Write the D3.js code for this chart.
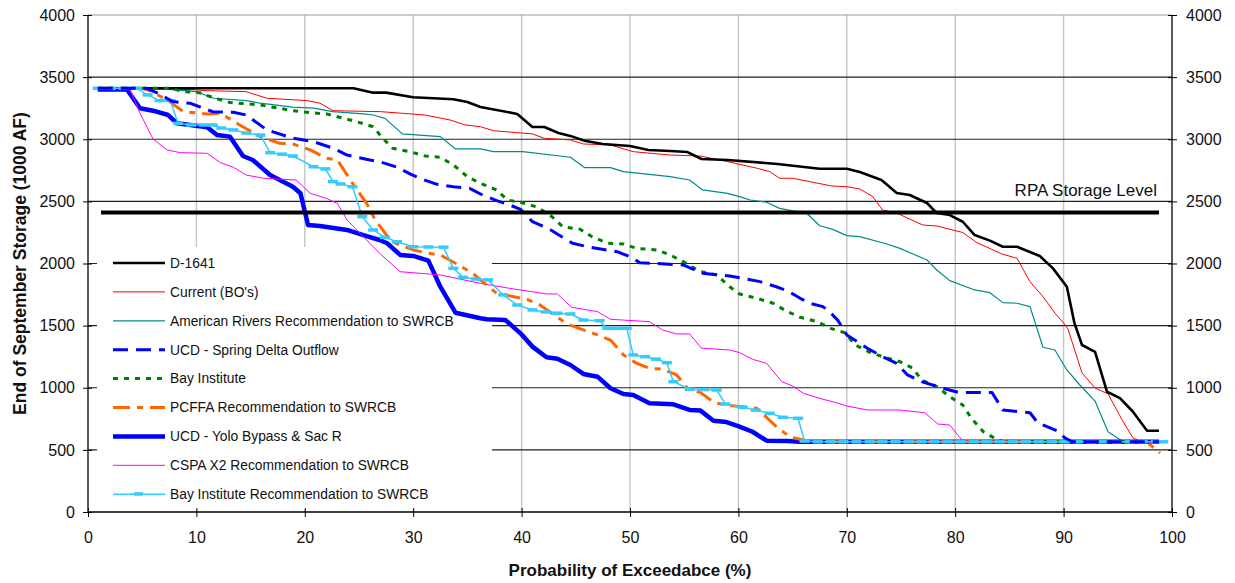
<!DOCTYPE html>
<html>
<head>
<meta charset="utf-8">
<script src="https://cdn.jsdelivr.net/npm/d3@7"></script>
<style>
  body { margin: 0; background: #fff; }
  svg { display: block; font-family: "Liberation Sans", Arial, sans-serif; }
</style>
</head>
<body>
<svg id="chart"></svg>
<script>
const WIDTH = 1235;
const HEIGHT = 583;

// axis ticks
const X_TICKS = [0, 10, 20, 30, 40, 50, 60, 70, 80, 90, 100];
const Y_TICKS = [0, 500, 1000, 1500, 2000, 2500, 3000, 3500, 4000];

const RPA_LEVEL = 2410;

// series, as [probability of exceedance %, storage 1000 AF]
const D1641 = [[0.9,3410],[24.5,3410],[26.3,3375],[27.5,3375],[30,3338],[33.7,3322],[35,3300],[36.2,3260],
  [39.6,3204],[41,3099],[42.1,3099],[43.4,3050],[44.5,3027],[45.8,2988],[47.5,2962],[50,2946],[51.7,2914],
  [53.7,2905],[55.3,2897],[56.6,2841],[59,2833],[63.6,2801],[67.5,2763],[70,2763],[71.2,2736],[73.2,2672],
  [74.6,2567],[75.8,2551],[77.4,2487],[78.3,2406],[79.5,2390],[80.7,2336],[81.8,2229],[83.2,2184],[84.4,2135],
  [85.7,2135],[87.8,2060],[89,1963],[90.3,1813],[91,1520],[91.7,1344],[92.9,1288],[94,968],[95.2,917],
  [96.4,807],[97.7,654],[98.8,654]];

const CURRENT = [[0.9,3410],[9.5,3400],[11,3391],[14.6,3383],[16.5,3330],[20.2,3311],[21.4,3290],[22.6,3230],
  [27,3222],[29,3209],[31.1,3195],[33.4,3155],[34.8,3115],[36.2,3101],[37.4,3069],[41,3043],[42.1,3008],
  [44.5,2994],[45.7,2962],[48.2,2954],[50.3,2900],[53.7,2873],[56.5,2865],[59,2820],[61.7,2767],[62.9,2739],
  [63.8,2686],[65,2686],[68.6,2624],[70,2618],[71.2,2600],[72.4,2538],[73.3,2430],[74.6,2406],[75.8,2358],
  [77,2310],[78.3,2302],[80.7,2249],[82,2168],[84.3,2077],[85.7,2042],[86.9,1854],[88.1,1733],[89.2,1601],
  [90,1521],[90.4,1473],[91.7,1119],[92.9,998],[94.1,950],[95.4,741],[96.4,596],[97,571],[98.8,565]];

const AMERICAN_RIVERS = [[0.9,3410],[6.4,3410],[10,3383],[11.6,3330],[14.6,3311],[15.9,3290],[18.9,3258],
  [20.8,3250],[22.6,3222],[25.4,3204],[26.3,3195],[27.4,3168],[29,3043],[32.5,3021],[33.9,2922],[36.2,2922],
  [37.4,2900],[40.1,2900],[44.5,2855],[45.8,2772],[48.2,2772],[49.4,2739],[53.7,2699],[55.5,2672],[56.7,2592],
  [59,2565],[60.1,2538],[61.1,2511],[62.6,2493],[63.8,2444],[66.3,2404],[67.5,2304],[68.7,2275],[70,2224],
  [71.2,2216],[73.7,2157],[74.9,2122],[76.1,2077],[77.4,2028],[78.3,1948],[79.5,1862],[81.8,1787],[83.2,1765],
  [84.4,1685],[85.7,1680],[86.9,1653],[88.1,1326],[89.2,1304],[90.3,1143],[91.5,1022],[92.9,893],[94.1,646],
  [95.4,571],[98.8,565]];

const SPRING_OUTFLOW = [[0.9,3410],[5.4,3410],[6.6,3365],[7.8,3303],[9.4,3290],[11.5,3222],[13.4,3217],
  [14.6,3195],[16.5,3075],[18.9,3008],[20.8,2981],[22.6,2928],[23.9,2873],[26,2833],[26.9,2820],[28.5,2775],
  [29.7,2721],[30.6,2686],[32.2,2637],[33.7,2618],[35.2,2605],[36.4,2551],[37.7,2506],[38.9,2471],[39.9,2436],
  [41,2337],[42.6,2275],[43.7,2216],[44.7,2163],[46.3,2131],[48.8,2095],[50,2055],[50.9,2007],[54.9,1988],
  [56.7,1921],[59.2,1900],[62,1854],[63.5,1813],[64.5,1781],[65.7,1720],[66.6,1680],[67.8,1653],[68.7,1586],
  [69.2,1540],[70,1425],[71.9,1318],[73.3,1250],[74.6,1197],[75.6,1103],[76.9,1049],[79.2,988],[80.4,961],
  [83.4,961],[84.4,821],[86.9,799],[87.6,719],[88.7,679],[89.4,654],[90.1,598],[90.8,565],[98.8,565]];

const BAY_INSTITUTE = [[0.9,3410],[7.6,3410],[8.8,3383],[10.3,3375],[11.7,3330],[13.1,3296],[15.9,3276],
  [18.9,3230],[20.5,3214],[22,3204],[24.8,3141],[26.3,3101],[27.2,3008],[28.1,2928],[29.7,2900],[31.1,2865],
  [32.5,2855],[33.7,2793],[35,2699],[36.2,2645],[37.7,2592],[38.7,2511],[40.1,2489],[41.5,2452],[42.8,2377],
  [43.8,2296],[45.4,2275],[46.5,2216],[47.9,2163],[49.4,2157],[50.6,2122],[52.5,2109],[53.7,2069],[54.9,2015],
  [56.5,1934],[58,1908],[59.2,1813],[60.1,1755],[61.7,1720],[63.2,1680],[64.5,1613],[65.7,1567],[67.3,1532],
  [68.5,1478],[69.8,1443],[70.8,1344],[72,1290],[73.3,1250],[74.9,1210],[76.1,1157],[76.9,1063],[78.3,1009],
  [79.5,928],[80.7,861],[81.5,754],[82.6,646],[83.9,580],[84.5,565],[98.8,565]];

const PCFFA = [[0.9,3410],[5,3410],[5.7,3391],[7.3,3316],[8.8,3222],[11,3204],[12.2,3209],[14,3115],
  [15.9,3021],[17.7,2967],[18.9,2962],[20.5,2914],[22,2847],[23,2833],[23.6,2753],[24.4,2645],[25.7,2484],
  [26.5,2350],[28,2175],[30,2109],[31.4,2082],[32.5,2069],[34,1997],[35.5,1920],[37.7,1760],[40.5,1712],
  [41.7,1666],[44.2,1513],[47,1425],[48.2,1384],[49.4,1264],[50.6,1197],[51.8,1157],[53,1149],[54.3,1103],
  [55.3,996],[56.5,961],[57.8,880],[58.9,861],[61.7,835],[63.5,687],[64.8,601],[66,580],[66.8,565],
  [97.6,565],[98.2,526],[98.9,475]];

const YOLO_SAC = [[0.9,3400],[3.6,3400],[4.8,3250],[6,3230],[7.4,3195],[8.2,3128],[11,3096],[11.9,3034],
  [13.1,3021],[14.3,2865],[15.2,2833],[16.8,2712],[18.9,2618],[19.6,2565],[20.3,2310],[21.4,2302],[23.9,2270],
  [25.4,2229],[26.9,2189],[27.6,2163],[28.8,2069],[30,2061],[31.4,2023],[32.5,1813],[33.9,1604],[36.2,1559],
  [36.8,1551],[38.5,1545],[39.9,1438],[41,1331],[42.3,1245],[43.3,1234],[44.5,1183],[45.7,1111],[47,1089],
  [48.2,996],[49.4,950],[50.3,942],[51.8,875],[54,867],[55.5,821],[56.5,816],[57.7,735],[58.9,724],[60.1,687],
  [61.3,646],[62.6,574],[64.5,571],[65.7,565],[98.8,565]];

const CSPA_X2 = [[0.9,3410],[3.6,3410],[3.9,3396],[4.8,3209],[6,3002],[7.3,2914],[8.5,2892],[11,2887],
  [12.2,2812],[13.4,2775],[14.6,2712],[16.2,2686],[19.2,2672],[20.5,2565],[22,2524],[23,2484],[23.9,2350],
  [25.4,2216],[26.9,2082],[28.8,1934],[32.5,1908],[36.2,1840],[38.9,1800],[42.3,1755],[43.3,1755],[44.6,1648],
  [47,1613],[48.2,1551],[51.8,1532],[53,1465],[54.3,1433],[55.5,1433],[56.6,1318],[59.2,1304],[60.1,1283],
  [61.3,1229],[62.6,1197],[64,1049],[65,1014],[66,955],[67.8,907],[68.7,888],[70,853],[71.9,821],[74.9,821],
  [77.2,799],[78.4,708],[79.5,700],[80.6,580],[81,565],[98.8,565]];

const BAY_INST_REC = [[0.9,3410],[2.1,3410],[3.3,3410],[4.5,3410],[5.5,3357],[6.6,3311],[7.6,3311],[8.3,3128],
  [9.5,3115],[10.7,3115],[11.5,3115],[12.3,3090],[13.4,3075],[14.6,3050],[15.9,3034],[16.8,2892],[17.9,2880],
  [18.9,2865],[20.8,2779],[21.9,2761],[22.6,2659],[23.3,2640],[24.4,2618],[25.3,2377],[26.3,2270],[27.4,2210],
  [28.5,2175],[30,2135],[31.4,2133],[32.8,2131],[33.7,1961],[34.6,1889],[35.8,1875],[36.9,1868],[38.3,1747],
  [39.6,1666],[41,1626],[42.2,1610],[43.3,1600],[44.5,1594],[45.7,1545],[47.2,1540],[47.9,1478],[48.8,1478],
  [49.7,1478],[50.3,1264],[51.4,1250],[52.4,1230],[53.4,1202],[54,1049],[55.5,988],[56.8,985],[58,982],
  [58.8,869],[60.4,843],[61.6,820],[62.9,794],[64.1,762],[65.5,754],[66.1,571],[67.3,565],[68.5,565],
  [69.7,565],[70.9,565],[72.1,565],[73.3,565],[74.5,565],[75.7,565],[76.9,565],[78.1,565],[79.3,565],
  [80.5,565],[81.7,565],[82.9,565],[84.1,565],[85.3,565],[86.5,565],[87.7,565],[88.9,565],[90.1,565],
  [91.3,565],[92.5,565],[93.7,565],[94.9,565],[96.1,565],[97.3,565],[98.5,565],[99.2,565]];

const SERIES = [
  { name: "D-1641", data: D1641, color: "#000000", width: 2.6, dash: null },
  { name: "Current (BO's)", data: CURRENT, color: "#ff0000", width: 1, dash: null },
  { name: "American Rivers Recommendation to SWRCB", data: AMERICAN_RIVERS, color: "#008b8b", width: 1.2, dash: null },
  { name: "UCD - Spring Delta Outflow", data: SPRING_OUTFLOW, color: "#0000ff", width: 3, dash: "15,8" },
  { name: "Bay Institute", data: BAY_INSTITUTE, color: "#008000", width: 3, dash: "5,6" },
  { name: "PCFFA Recommendation to SWRCB", data: PCFFA, color: "#ff6600", width: 3, dash: "17,7,6,7" },
  { name: "UCD - Yolo Bypass & Sac R", data: YOLO_SAC, color: "#0000ff", width: 4.5, dash: null },
  { name: "CSPA X2 Recommendation to SWRCB", data: CSPA_X2, color: "#ff00ff", width: 1, dash: null },
  { name: "Bay Institute Recommendation to SWRCB", data: BAY_INST_REC, color: "#33ccff", width: 1.5, dash: null, marker: true }
];

// drawing order (later on top)
const DRAW_ORDER = [1, 2, 0, 6, 7, 5, 4, 8, 3];

window.onload = function(){
    let svg = d3.select("#chart")
        .attr("width", WIDTH)
        .attr("height", HEIGHT);

    let xScale = d3.scaleLinear().domain([0, 100]).range([88, 1172]);
    let yScale = d3.scaleLinear().domain([0, 4000]).range([512, 15]);

    // gridlines
    svg.append("g").selectAll("line")
        .data(X_TICKS.slice(1, -1))
        .enter().append("line")
        .attr("x1", d => xScale(d)).attr("x2", d => xScale(d))
        .attr("y1", yScale(4000)).attr("y2", yScale(0))
        .attr("stroke", "#c8c8c8").attr("stroke-width", 1.5);

    svg.append("g").selectAll("line")
        .data(Y_TICKS.slice(1))
        .enter().append("line")
        .attr("x1", xScale(0)).attr("x2", xScale(100))
        .attr("y1", d => yScale(d)).attr("y2", d => yScale(d))
        .attr("stroke", d => d === 4000 ? "#999" : "#222")
        .attr("stroke-width", 1.2);

    // legend background covers the grid
    svg.append("rect")
        .attr("x", 97).attr("y", 247)
        .attr("width", 395).attr("height", 263)
        .attr("fill", "#fff");

    // axes
    let fmt = d3.format("d");
    let left = svg.append("g")
        .attr("transform", `translate(${xScale(0)},0)`)
        .call(d3.axisLeft(yScale).tickValues(Y_TICKS).tickFormat(fmt).tickSize(5).tickPadding(8));
    let right = svg.append("g")
        .attr("transform", `translate(${xScale(100)},0)`)
        .call(d3.axisRight(yScale).tickValues(Y_TICKS).tickFormat(fmt).tickSize(5).tickPadding(9));
    let bottom = svg.append("g")
        .attr("transform", `translate(0,${yScale(0)})`)
        .call(d3.axisBottom(xScale).tickValues(X_TICKS).tickFormat(fmt).tickSize(5).tickPadding(15));

    left.selectAll(".tick line").attr("x1", 4);
    right.selectAll(".tick line").attr("x1", -4);
    bottom.selectAll(".tick line").attr("y1", -4);
    [left, right, bottom].forEach(function(g){
        g.select(".domain").remove();
        g.selectAll("line").attr("stroke", "#000");
        g.selectAll("text")
            .attr("font-family", "Liberation Sans, Arial, sans-serif")
            .attr("font-size", "16px")
            .attr("fill", "#111");
    });
    svg.append("line")
        .attr("x1", xScale(0)).attr("x2", xScale(0))
        .attr("y1", yScale(4000)).attr("y2", yScale(0))
        .attr("stroke", "#000").attr("stroke-width", 1.3);
    svg.append("line")
        .attr("x1", xScale(100)).attr("x2", xScale(100))
        .attr("y1", yScale(4000)).attr("y2", yScale(0))
        .attr("stroke", "#000").attr("stroke-width", 1.3);
    svg.append("line")
        .attr("x1", xScale(0)).attr("x2", xScale(100))
        .attr("y1", yScale(0)).attr("y2", yScale(0))
        .attr("stroke", "#000").attr("stroke-width", 1.3);

    // series
    let line = d3.line()
        .x(d => xScale(d[0]))
        .y(d => yScale(d[1]));

    DRAW_ORDER.forEach(function(i){
        let s = SERIES[i];
        svg.append("path")
            .datum(s.data)
            .attr("d", line)
            .attr("fill", "none")
            .attr("stroke", s.color)
            .attr("stroke-width", s.width)
            .attr("stroke-dasharray", s.dash)
            .attr("stroke-linejoin", "round");
        if (s.marker) {
            svg.append("g").selectAll("rect")
                .data(s.data)
                .enter().append("rect")
                .attr("x", d => xScale(d[0]) - 5)
                .attr("y", d => yScale(d[1]) - 1.75)
                .attr("width", 10)
                .attr("height", 3.5)
                .attr("fill", s.color);
        }
    });

    // RPA storage level
    svg.append("line")
        .attr("x1", xScale(1.2)).attr("x2", xScale(98.8))
        .attr("y1", yScale(RPA_LEVEL)).attr("y2", yScale(RPA_LEVEL))
        .attr("stroke", "#000").attr("stroke-width", 4);
    svg.append("text")
        .text("RPA Storage Level")
        .attr("x", 1157).attr("y", yScale(RPA_LEVEL) - 17)
        .attr("font-size", "17px")
        .attr("fill", "#111")
        .style("text-anchor", "end");

    // legend
    SERIES.forEach(function(s, i){
        let ly = 263 + i * 28.9;
        svg.append("line")
            .attr("x1", 113).attr("x2", 165)
            .attr("y1", ly).attr("y2", ly)
            .attr("stroke", s.color)
            .attr("stroke-width", s.width)
            .attr("stroke-dasharray", s.dash);
        if (s.marker) {
            svg.append("rect")
                .attr("x", 134).attr("y", ly - 2)
                .attr("width", 9).attr("height", 3.5)
                .attr("fill", s.color);
        }
        svg.append("text")
            .text(s.name)
            .attr("x", 170).attr("y", ly)
            .attr("dy", "0.35em")
            .attr("font-size", "13.8px")
            .attr("fill", "#111");
    });

    // axis titles
    svg.append("text")
        .text("Probability of Exceedabce (%)")
        .attr("x", xScale(50)).attr("y", 576)
        .attr("font-size", "17px")
        .attr("font-weight", "bold")
        .attr("fill", "#111")
        .style("text-anchor", "middle");
    svg.append("text")
        .text("End of September Storage (1000 AF)")
        .attr("transform", `translate(26,${yScale(2000)}) rotate(-90)`)
        .attr("font-size", "17.5px")
        .attr("font-weight", "bold")
        .attr("fill", "#111")
        .style("text-anchor", "middle");
};
</script>
</body>
</html>
